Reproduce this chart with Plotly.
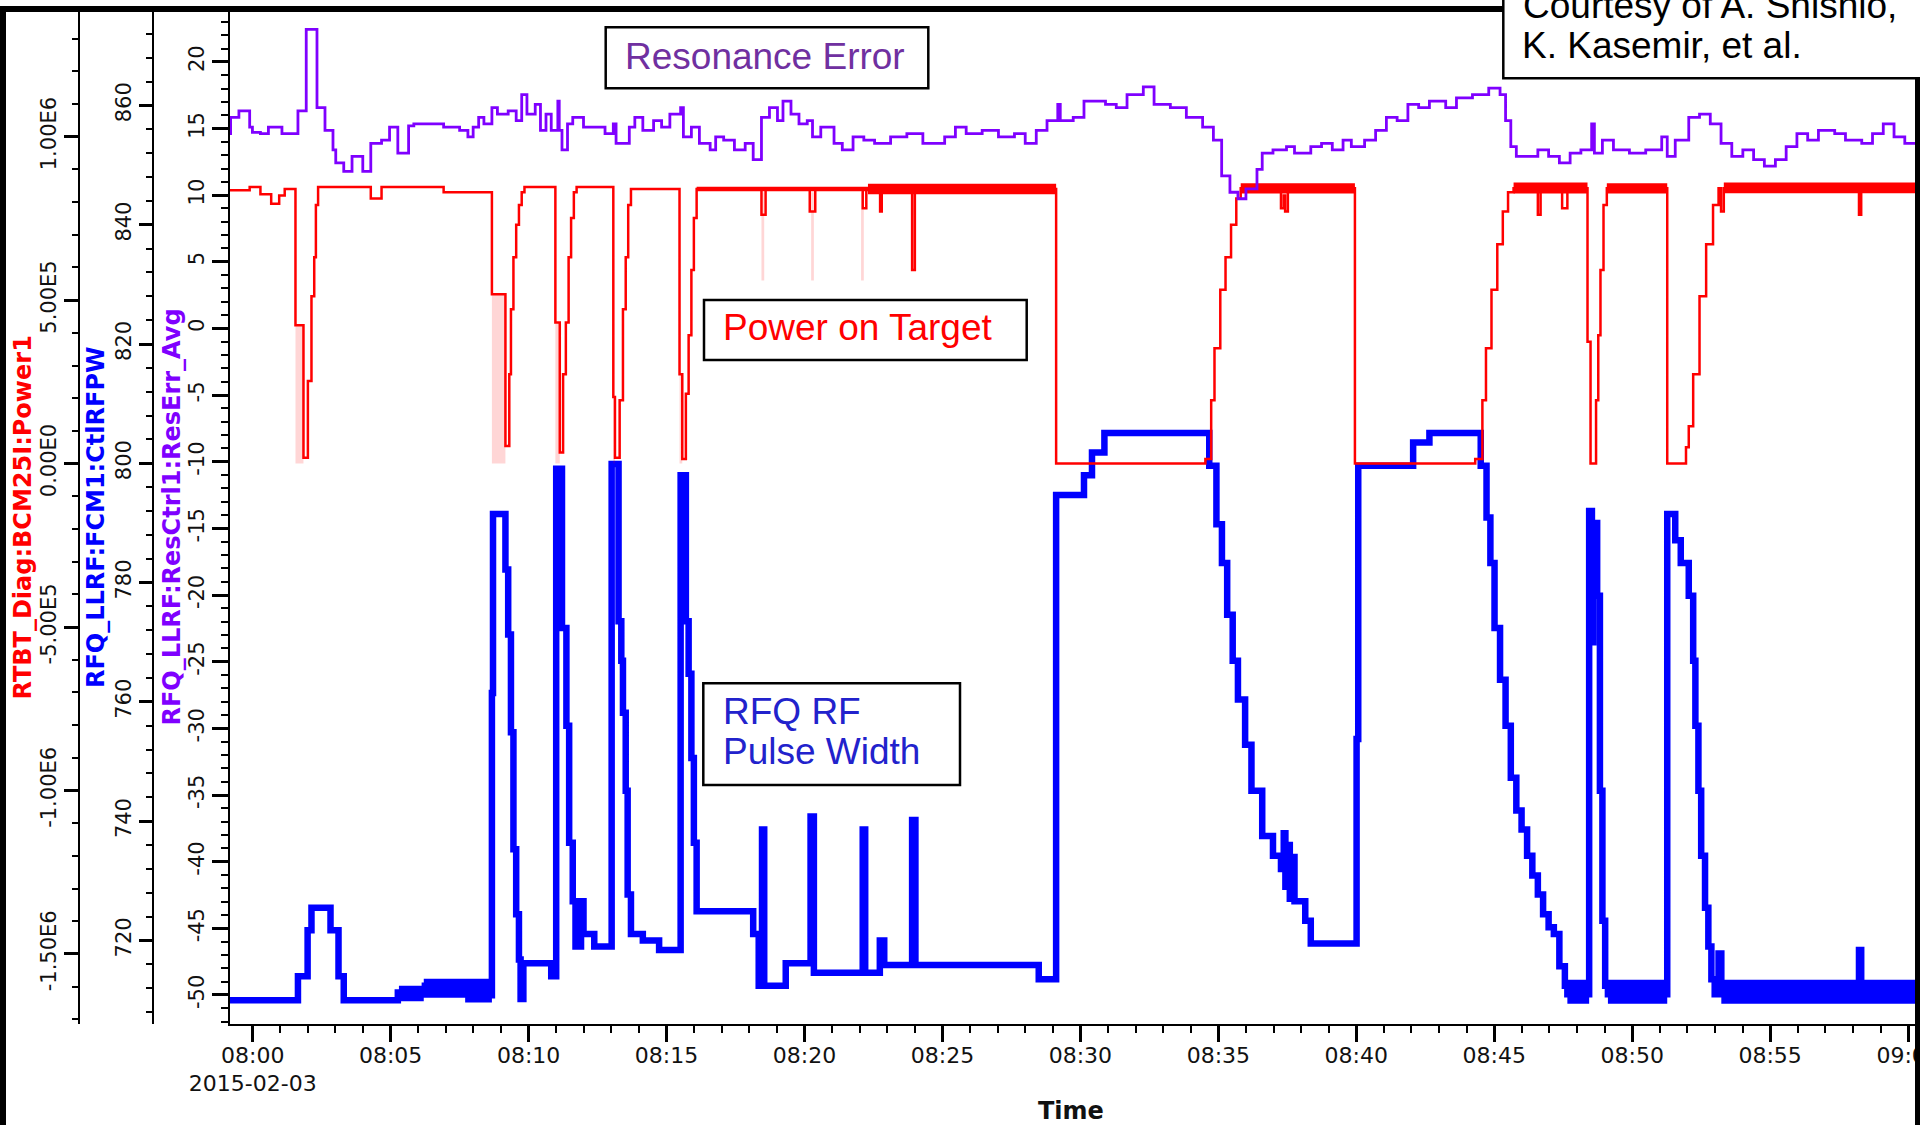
import pandas as pd
import plotly.graph_objects as go

W, H = 1920, 1125
BASE = pd.Timestamp("2015-02-03 08:00:00")

# ---------------- data (time = minutes after 08:00) ----------------
# RFQ_LLRF:ResCtrl1:ResErr_Avg  (step samples)
res_t = [-0.89, -0.80, -0.50, -0.11, -0.01, 0.28, 0.57, 1.06, 1.64, 1.94, 2.33, 2.62, 2.91, 3.01, 3.30,
         3.60, 3.99, 4.28, 4.67, 4.96, 5.26, 5.65, 5.84, 6.92, 7.50, 7.80, 7.99, 8.19, 8.38, 8.67, 8.87,
         9.26, 9.55, 9.75, 9.94, 10.24, 10.43, 10.63, 10.82, 11.06, 11.11, 11.21, 11.41, 11.60, 11.99,
         12.77, 13.07, 13.17, 13.65, 13.85, 14.14, 14.53, 14.82, 15.12, 15.51, 15.61, 15.90, 16.19, 16.58,
         16.78, 17.07, 17.46, 17.85, 18.14, 18.44, 18.73, 19.02, 19.22, 19.51, 19.80, 20.10, 20.29, 20.59,
         21.07, 21.37, 21.76, 22.15, 22.54, 23.12, 23.71, 24.29, 25.08, 25.47, 25.86, 26.44, 27.03, 27.61,
         28.00, 28.40, 28.79, 29.18, 29.27,
         29.74, 30.13, 30.91, 31.30, 31.69, 32.28, 32.67, 33.26, 33.84, 34.43, 34.82, 35.12, 35.42, 35.71,
         36.00, 36.40, 36.59, 36.98, 37.47, 37.76, 38.35, 38.74, 39.13, 39.52, 39.82, 40.30, 40.70, 41.09,
         41.48, 41.87, 42.26, 42.65, 43.24, 43.63, 44.21, 44.80, 45.21, 45.41, 45.60, 45.80, 46.58, 46.97,
         47.36, 47.75, 48.14, 48.53, 48.63, 48.92, 49.32, 49.90, 50.49, 51.07, 51.27, 51.56, 52.05, 52.44,
         52.83, 53.22, 53.61, 54.01, 54.40, 54.79, 55.19, 55.58, 55.97, 56.36, 56.75, 57.34, 57.73, 58.32,
         58.71, 59.10, 59.49, 59.88, 60.40]
res_v = [14.62, 15.84, 16.32, 15.10, 14.71, 14.62, 15.10, 14.62, 16.32, 22.43, 16.57, 14.86, 13.40, 12.42, 11.78,
         12.91, 11.78, 13.88, 14.13, 15.10, 13.15, 15.20, 15.35, 15.10, 14.86, 14.37, 15.10, 15.84, 15.35, 16.57, 16.08,
         16.32, 15.59, 17.54, 16.08, 16.81, 14.86, 16.08, 14.86, 17.06, 14.86, 13.40, 15.35, 15.84, 15.10,
         14.62, 15.35, 13.88, 15.10, 15.84, 14.86, 15.59, 15.10, 16.08, 16.57, 14.37, 15.10, 13.88, 13.40,
         14.37, 14.13, 13.40, 13.88, 12.66, 15.84, 16.57, 15.59, 17.06, 16.08, 15.35, 15.59, 14.37, 15.10,
         13.88, 13.40, 14.37, 14.13, 13.88, 14.37, 14.62, 13.88, 14.37, 15.10, 14.62, 14.86, 14.37, 14.62,
         13.88, 14.86, 15.59, 16.81, 15.59,
         15.84, 17.06, 16.81, 16.57, 17.54, 18.13, 16.81, 16.57, 15.84, 15.10, 14.13, 11.44, 10.22, 9.73,
         10.47, 11.93, 13.15, 13.40, 13.64, 13.15, 13.64, 13.88, 13.40, 14.13, 13.64, 14.13, 14.86, 15.84,
         15.59, 16.81, 16.57, 17.06, 16.57, 17.30, 17.54, 18.03, 17.54, 15.59, 13.64, 12.91, 13.40, 12.91,
         12.42, 13.15, 13.40, 15.35, 13.15, 14.13, 13.40, 13.15, 13.40, 14.37, 12.91, 14.13, 15.84, 16.08,
         15.35, 13.88, 12.91, 13.40, 12.66, 12.18, 12.66, 13.64, 14.62, 14.13, 14.86, 14.62, 14.13, 13.88,
         14.62, 15.35, 14.37, 13.88, 13.88]

# RFQ_LLRF:FCM1:CtlRFPW  (step samples)
pw_t = [-0.89, 1.64, 1.99, 2.13, 2.82, 3.11, 3.30, 5.26, 6.24, 7.11, 7.70, 8.09, 8.28,
        8.67, 8.71, 9.16, 9.26, 9.36, 9.45, 9.55, 9.65, 9.71, 9.81, 10.82,
        11.00, 11.21, 11.37, 11.47, 11.60, 11.70, 11.90, 11.99, 12.38,
        13.01, 13.26, 13.36, 13.42, 13.52, 13.59, 13.71, 14.14, 14.73,
        15.51, 15.70, 15.80, 15.90, 15.99, 16.09, 18.14, 18.34, 18.46, 18.54, 19.32,
        20.22, 20.34, 22.11, 22.20, 22.73, 22.89, 23.90, 24.02, 28.49, 29.12,
        30.13, 30.42, 30.87, 34.67, 34.93, 35.13, 35.32, 35.52, 35.71, 35.97, 36.20, 36.59, 36.98,
        37.27, 37.37, 37.43, 37.52, 37.59, 37.67, 37.76, 38.15, 38.35, 40.01, 40.07, 42.06, 42.65,
        44.51, 44.72, 44.86, 45.01, 45.21, 45.41, 45.60, 45.80, 45.99, 46.19, 46.38, 46.58, 46.77,
        46.97, 47.16, 47.36, 47.56, 47.65, 48.44, 48.54, 48.59, 48.73, 48.83, 48.92, 49.02, 49.12,
        51.27, 51.56, 51.76, 52.05, 52.21, 52.29, 52.40, 52.50, 52.64, 52.76, 52.87, 52.99, 53.13,
        53.23, 58.22, 58.30, 60.40]
pw_v = [710.0, 714.0, 721.7, 725.5, 721.7, 714.0, 710.0, 711.3, 712.4, 712.9, 711.3, 712.4, 710.8,
        761.5, 791.5, 782.2, 771.3, 754.9, 735.3, 724.4, 716.8, 710.2, 716.2, 714.0,
        799.1, 772.4, 756.0, 736.4, 726.6, 719.0, 726.6, 721.1, 719.0,
        799.9, 773.5, 766.9, 758.2, 745.1, 727.7, 721.1, 720.0, 718.4,
        798.0, 773.5, 764.7, 750.6, 736.4, 724.9, 721.1, 712.4, 738.6, 712.4, 716.2,
        740.8, 714.6, 738.6, 714.6, 720.0, 715.9, 740.2, 715.9, 713.5, 794.7,
        798.0, 801.8, 805.1, 799.6, 789.8, 783.3, 774.6, 766.9, 760.4, 752.8, 745.1, 737.5, 734.2,
        732.0, 738.0, 729.0, 736.0, 727.0, 734.0, 726.6, 723.3, 719.5, 753.8, 799.6, 803.5, 805.1,
        799.6, 790.9, 783.3, 772.4, 763.7, 756.0, 747.3, 741.8, 738.6, 734.2, 730.9, 727.7, 724.4,
        722.2, 721.1, 715.7, 712.4, 711.0, 792.0, 770.0, 790.0, 777.8, 745.1, 723.3, 712.4, 711.0,
        791.5, 787.1, 783.3, 777.8, 766.9, 756.0, 745.1, 734.2, 725.5, 719.0, 713.5, 711.0, 717.8,
        711.0, 718.4, 711.0, 711.0]

# dense-noise envelope of the pulse width (start, end, low, high)
pw_band_t0 = [5.30, 6.20, 7.70, 47.65, 49.12, 53.23]
pw_band_t1 = [6.20, 7.70, 8.67, 48.44, 51.27, 60.40]
pw_band_lo = [709.8, 710.4, 709.6, 709.4, 709.4, 709.4]
pw_band_hi = [712.4, 713.6, 713.6, 713.4, 713.4, 713.4]

# RTBT_Diag:BCM25I:Power1  (step samples, units of 1e5)
pot_t = [-0.89, -0.11, 0.28, 0.67, 0.96, 1.16, 1.55, 1.84, 2.00, 2.13, 2.23, 2.29, 2.37, 4.28, 4.67, 6.92,
         8.67, 9.16, 9.30, 9.36, 9.45, 9.55, 9.65, 9.75, 9.85,
         10.97, 11.13, 11.25, 11.35, 11.45, 11.54, 11.64, 11.74,
         13.07, 13.13, 13.30, 13.42, 13.52, 13.61, 13.71,
         15.47, 15.57, 15.70, 15.80, 15.90, 15.99, 16.09,
         18.44, 18.59, 20.19, 20.39, 22.11, 22.24, 22.74, 22.80, 23.90, 24.00, 29.12,
         34.53, 34.74, 34.86, 35.07, 35.26, 35.46, 35.65, 35.81, 37.27, 37.37, 37.42, 37.52, 39.95,
         44.31, 44.57, 44.70, 44.90, 45.11, 45.31, 45.50, 45.70, 46.58, 46.68, 47.46, 47.65,
         48.38, 48.49, 48.69, 48.77, 48.85, 48.96, 49.08, 51.27,
         51.95, 52.05, 52.21, 52.44, 52.68, 52.93, 53.13, 53.22, 53.32, 58.22, 58.30, 60.40]
pot_v = [8.36, 8.46, 8.24, 7.95, 8.20, 8.40, 4.23, 0.18, 2.53, 5.12, 6.31, 7.91, 8.46, 8.11, 8.46, 8.30,
         5.18, 0.54, 2.73, 4.72, 6.31, 7.31, 7.91, 8.30, 8.46,
         4.32, 0.34, 2.73, 4.32, 6.31, 7.51, 8.30, 8.46,
         2.04, 0.18, 1.94, 4.72, 6.31, 7.91, 8.40,
         2.73, 0.14, 2.14, 3.93, 5.92, 7.51, 8.40,
         7.61, 8.40, 7.71, 8.40, 7.81, 8.40, 7.71, 8.40, 5.92, 8.40, 0.0,
         0.14, 1.94, 3.53, 5.32, 6.31, 7.31, 8.11, 8.42, 7.81, 8.20, 7.71, 8.42, 0.0,
         0.14, 1.94, 3.53, 5.32, 6.71, 7.71, 8.30, 8.42, 7.61, 8.42, 7.81, 8.42,
         3.73, 0.0, 1.94, 3.93, 5.92, 7.91, 8.42, 0.0,
         0.50, 1.14, 2.73, 5.12, 6.71, 7.91, 8.42, 7.71, 8.42, 7.61, 8.42, 8.42]
POT_UNIT = 1e5

# min/max envelope of the power (pale) (start, end, low, high) – units of 1e5
pot_env_t0 = [1.55, 8.67, 10.97, 13.07, 15.47, 18.44, 20.24, 22.05]
pot_env_t1 = [1.84, 9.16, 11.13, 13.13, 15.57, 18.54, 20.34, 22.15]
pot_env_lo = [0.0, 0.0, 0.0, 0.0, 0.0, 5.6, 5.6, 5.6]
pot_env_hi = [4.23, 5.18, 4.32, 2.04, 2.73, 8.3, 8.3, 8.3]

# dense-noise band of the power (units of 1e5)
pot_band_t0 = [16.09, 22.30, 35.81, 45.70, 49.08, 53.32]
pot_band_t1 = [22.30, 29.12, 39.95, 48.38, 51.27, 60.40]
pot_band_lo = [8.33, 8.24, 8.26, 8.26, 8.26, 8.27]
pot_band_hi = [8.47, 8.56, 8.58, 8.60, 8.58, 8.60]

# axis ticks
x_tick_min = [0, 5, 10, 15, 20, 25, 30, 35, 40, 45, 50, 55, 60]
x_tick_labels = ["08:00<br>2015-02-03", "08:05", "08:10", "08:15", "08:20", "08:25", "08:30",
                 "08:35", "08:40", "08:45", "08:50", "08:55", "09:00"]
res_ticks = [-50, -45, -40, -35, -30, -25, -20, -15, -10, -5, 0, 5, 10, 15, 20]
res_tick_labels = ["-50", "-45", "-40", "-35", "-30", "-25", "-20", "-15", "-10", "-5", "0", "5", "10", "15", "20"]
pw_ticks = [720, 740, 760, 780, 800, 820, 840, 860]
pot_ticks = [-1.5e6, -1.0e6, -5e5, 0, 5e5, 1.0e6]
pot_tick_labels = ["-1.50E6", "-1.00E6", "-5.00E5", "0.00E0", "5.00E5", "1.00E6"]

# ---------------- helpers ----------------
def tt(mins):
    return [BASE + pd.Timedelta(minutes=m) for m in mins]


def band_xy(t0, t1, lo, hi, scale=1.0):
    xs, ys = [], []
    for a, b, l, h in zip(t0, t1, lo, hi):
        xs += tt([a, b, b, a, a]) + [None]
        ys += [l * scale, l * scale, h * scale, h * scale, l * scale, None]
    return xs, ys


def px(x):
    return x / W


def py(y):
    return 1 - y / H


RED = "#ff0000"
BLUE = "#0000ff"
PURPLE = "#7f00ff"
FONT = "DejaVu Sans"

fig = go.Figure()

bx, by = band_xy(pw_band_t0, pw_band_t1, pw_band_lo, pw_band_hi)
fig.add_trace(go.Scatter(x=bx, y=by, mode="lines", fill="toself", fillcolor=BLUE,
                         line=dict(width=0, color=BLUE), yaxis="y", hoverinfo="skip", showlegend=False))
fig.add_trace(go.Scatter(x=tt(pw_t), y=pw_v, mode="lines", line=dict(color=BLUE, width=6.5, shape="hv"),
                         yaxis="y", name="RFQ_LLRF:FCM1:CtlRFPW", showlegend=False))

ex, ey = band_xy(pot_env_t0, pot_env_t1, pot_env_lo, pot_env_hi, POT_UNIT)
fig.add_trace(go.Scatter(x=ex, y=ey, mode="lines", fill="toself", fillcolor="rgba(255,0,0,0.16)",
                         line=dict(width=0, color="rgba(255,0,0,0)"), yaxis="y2", hoverinfo="skip",
                         showlegend=False))
nx, ny = band_xy(pot_band_t0, pot_band_t1, pot_band_lo, pot_band_hi, POT_UNIT)
fig.add_trace(go.Scatter(x=nx, y=ny, mode="lines", fill="toself", fillcolor=RED,
                         line=dict(width=0, color=RED), yaxis="y2", hoverinfo="skip", showlegend=False))
fig.add_trace(go.Scatter(x=tt(pot_t), y=[v * POT_UNIT for v in pot_v], mode="lines",
                         line=dict(color=RED, width=2.5, shape="hv"), yaxis="y2",
                         name="RTBT_Diag:BCM25I:Power1", showlegend=False))

fig.add_trace(go.Scatter(x=tt(res_t), y=res_v, mode="lines", line=dict(color=PURPLE, width=2.8, shape="hv"),
                         yaxis="y3", name="RFQ_LLRF:ResCtrl1:ResErr_Avg", showlegend=False))

tickfont = dict(family=FONT, size=21, color="#111111")
ydom = [py(1024.3), py(12)]

common_y = dict(showgrid=False, zeroline=False, showline=True, linecolor="black", linewidth=2,
                ticks="outside", tickcolor="black", tickwidth=3, tickangle=-90, tickfont=tickfont,
                side="left", automargin=False)

fig.update_layout(
    width=W, height=H, margin=dict(l=0, r=0, t=0, b=0, autoexpand=False),
    paper_bgcolor="white", plot_bgcolor="white",
    font=dict(family=FONT, color="#111111"),
    showlegend=False,
    xaxis=dict(domain=[px(230), px(1915)], anchor="y", type="date", automargin=False,
               range=[BASE + pd.Timedelta(minutes=-0.823), BASE + pd.Timedelta(minutes=60.25)],
               tickmode="array", tickvals=tt(x_tick_min), ticktext=x_tick_labels,
               ticks="outside", ticklen=16, tickwidth=3, tickcolor="black", ticklabelstandoff=-6,
               ticklabeloverflow="allow",
               showline=True, linecolor="black", linewidth=2, showgrid=False, zeroline=False,
               tickfont=dict(family=FONT, size=22, color="#111111"),
               minor=dict(dtick=60000, tick0=BASE, ticks="outside", ticklen=7, tickwidth=1.5,
                          tickcolor="black", showgrid=False)),
    yaxis=dict(domain=ydom, anchor="free", position=px(153.3), range=[705.95, 875.66],
               tickmode="array", tickvals=pw_ticks, ticklen=13,
               minor=dict(dtick=4, ticks="outside", ticklen=6, tickwidth=1.5, tickcolor="black",
                          showgrid=False),
               **common_y),
    yaxis2=dict(overlaying="y", anchor="free", position=px(79), range=[-1.7152e6, 1.3815e6],
                tickmode="array", tickvals=pot_ticks, ticktext=pot_tick_labels, ticklen=14,
                minor=dict(dtick=1e5, ticks="outside", ticklen=6, tickwidth=1.5, tickcolor="black",
                           showgrid=False),
                **common_y),
    yaxis3=dict(overlaying="y", anchor="x", range=[-52.20, 23.74],
                tickmode="array", tickvals=res_ticks, ticktext=res_tick_labels, ticklen=16,
                minor=dict(dtick=1, ticks="outside", ticklen=7, tickwidth=1.5, tickcolor="black",
                           showgrid=False),
                **common_y),
)

shapes = []
# screenshot frame
shapes.append(dict(type="rect", xref="paper", yref="paper", x0=px(0), x1=px(6), y0=py(H + 5), y1=py(6),
                   fillcolor="black", line=dict(width=0)))
shapes.append(dict(type="rect", xref="paper", yref="paper", x0=px(0), x1=px(1504), y0=py(12), y1=py(6),
                   fillcolor="black", line=dict(width=0)))
shapes.append(dict(type="rect", xref="paper", yref="paper", x0=px(1915), x1=px(W + 5), y0=py(H + 5), y1=py(78),
                   fillcolor="black", line=dict(width=0)))
# text boxes
for (x0, x1, y0, y1) in [(605.7, 928.3, 27.3, 88.3), (704, 1026.7, 300, 360), (703.3, 960, 683.3, 785),
                         (1503.3, W + 10, -10, 78.3)]:
    shapes.append(dict(type="rect", xref="paper", yref="paper", x0=px(x0), x1=px(x1), y0=py(y1), y1=py(y0),
                       fillcolor="white", line=dict(color="black", width=2.5)))
fig.update_layout(shapes=shapes)

ann = []
box_font = "Liberation Sans"
for text, x, y, col in [("Resonance Error", 623, 56, "#7030a0"),
                        ("Power on Target", 721, 327.8, RED),
                        ("RFQ RF", 721, 711.7, "#2222cc"),
                        ("Pulse Width", 721, 751.7, "#2222cc"),
                        ("Courtesy of A. Shishio,", 1521, 5, "black"),
                        ("K. Kasemir, et al.", 1520, 45, "black")]:
    ann.append(dict(text=text, x=px(x), y=py(y), xref="paper", yref="paper", xanchor="left", yanchor="middle",
                    showarrow=False, font=dict(family=box_font, size=37, color=col)))
# axis titles
for text, x, y, col in [("RTBT_Diag:BCM25I:Power1", 22, 517.5, RED),
                        ("RFQ_LLRF:FCM1:CtlRFPW", 96, 518, BLUE),
                        ("RFQ_LLRF:ResCtrl1:ResErr_Avg", 171, 517.5, PURPLE)]:
    ann.append(dict(text="<b>%s</b>" % text, x=px(x), y=py(y), xref="paper", yref="paper", textangle=-90,
                    xanchor="center", yanchor="middle", showarrow=False,
                    font=dict(family=FONT, size=24, color=col)))
ann.append(dict(text="<b>Time</b>", x=px(1071), y=py(1110.6), xref="paper", yref="paper",
                xanchor="center", yanchor="middle", showarrow=False,
                font=dict(family=FONT, size=24, color="#111111")))
fig.update_layout(annotations=ann)

fig.write_html("out.html", config={"displayModeBar": False},
               post_script="document.body.style.margin='0';document.body.style.overflow='hidden';")
